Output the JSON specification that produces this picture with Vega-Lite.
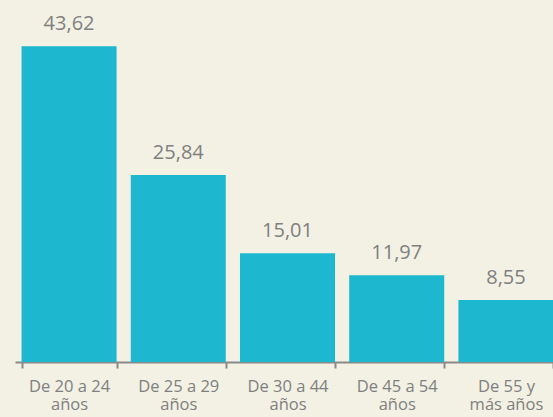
{
  "$schema": "https://vega.github.io/schema/vega-lite/v6.json",
  "autosize": "none",
  "width": 538,
  "height": 362,
  "padding": {"left": 15, "top": 0, "right": 0, "bottom": 55},
  "background": "#f2f1e4",
  "config": {"view": {"stroke": null}, "font": "Open Sans"},
  "data": {"values": [
    {"grupo": "De 20 a 24|años", "valor": 43.62, "etiqueta": "43,62"},
    {"grupo": "De 25 a 29|años", "valor": 25.84, "etiqueta": "25,84"},
    {"grupo": "De 30 a 44|años", "valor": 15.01, "etiqueta": "15,01"},
    {"grupo": "De 45 a 54|años", "valor": 11.97, "etiqueta": "11,97"},
    {"grupo": "De 55 y|más años", "valor": 8.55, "etiqueta": "8,55"}
  ]},
  "encoding": {
    "x": {
      "field": "grupo", "type": "nominal", "sort": null,
      "scale": {"range": [0, 545], "paddingInner": 0.13, "paddingOuter": 0.06},
      "axis": {
        "title": null, "labelAngle": 0, "labelExpr": "split(datum.label, '|')",
        "labelFontSize": 16.5, "labelColor": "#808080", "labelLineHeight": 18,
        "labelPadding": 10, "labelBaseline": "top",
        "domainColor": "#8a8a8a", "domainWidth": 2,
        "tickBand": "extent", "tickColor": "#8a8a8a", "tickSize": 6, "tickWidth": 2,
        "grid": false
      }
    },
    "y": {
      "field": "valor", "type": "quantitative",
      "scale": {"domain": [0, 50], "nice": false},
      "axis": null
    }
  },
  "layer": [
    {"mark": {"type": "bar", "color": "#1db8cf"}},
    {"mark": {"type": "text", "fontSize": 20, "color": "#808080", "baseline": "alphabetic", "dy": -16},
     "encoding": {"text": {"field": "etiqueta"}}}
  ]
}
